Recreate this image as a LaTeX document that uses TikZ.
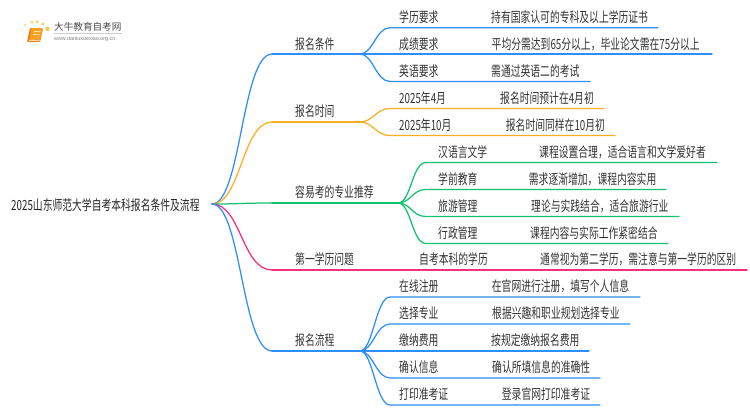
\documentclass[tikz,border=0pt]{standalone}
\usepackage{fontspec}
\setmainfont{Liberation Sans}
\newfontfamily\cn[FakeStretch=0.70]{Noto Sans CJK SC}
\newfontfamily\cnlogo{Noto Sans CJK SC}
\definecolor{cblue}{HTML}{2C8EFF}
\definecolor{corange}{HTML}{FFAE1F}
\definecolor{cgreen}{HTML}{13C270}
\definecolor{cpink}{HTML}{F62E80}
\definecolor{ctext}{HTML}{333333}
\definecolor{bookc}{HTML}{F9A01E}
\definecolor{bookd}{HTML}{E97C12}
\definecolor{bookl}{HTML}{FFD9A0}
\tikzset{
  lab/.style={anchor=west,inner sep=0pt,font=\cn\fontsize{14}{14}\selectfont,text=ctext},
  rootlab/.style={lab,text=black!85},
  link/.style={line width=1.25pt,line cap=round},
}
\newcommand{\branch}[3]{% colour, from, to
  \draw[link,#1] (#2) .. controls ($(#2)+(29,0)$) and ($(#3)+(-30,0)$) .. (#3);}
\usetikzlibrary{calc}
\begin{document}
\begin{tikzpicture}[x=1pt,y=-1pt]
\useasboundingbox (0,0) rectangle (750,410);
\fill[white] (0,0) rectangle (750,410);
% logo
\foreach \x/\y/\r/\c in {23/42/.8/FFF0D6,22.7/36/.9/FFE9C2,21.8/30/1/FFE0A8,25/25/1.2/FFD98F,32/22.3/1.6/FFD27A,37/21.8/1.7/FFCF70,43/24/1.7/FFCB66,47.5/29/2.2/FFC552}
  {\definecolor{dotc}{HTML}{\c}\fill[dotc] (\x,\y) circle (\r);}
\fill[bookd,rounded corners=1pt] (30,28) -- (43,28.5) -- (40,42) -- (27,42) -- cycle;
\fill[bookc,rounded corners=1pt] (31.5,28) -- (43,28.5) -- (40.3,39) -- (29.5,39) -- cycle;
\fill[bookl] (29,39.6) -- (39.8,39.6) -- (39.5,41) -- (28.8,41) -- cycle;
\draw[white!60!bookc,line width=.5pt] (33.5,31.5) -- (40.5,31.5) (33,34) -- (40,34);
\node[inner sep=0pt,anchor=west,text=black!70,font=\cnlogo\fontsize{9.6}{10}\selectfont] (logoa) at (54,27) {大牛教育自考网};
\draw[black!20,line width=.5pt] (54,33.5) -- (122,33.5);
\node[inner sep=0pt,anchor=west,text=black!50,font=\fontsize{5.4}{6}\selectfont] (logob) at (54,38.7) {www.daniuxuexiao.org.cn};
% root
\node[rootlab] (root) at (11,205.5) {2025山东师范大学自考本科报名条件及流程};
\coordinate (r) at (212,204);
% coordinates
\foreach \n/\x/\y in {
 b1s/272/54,b1e/360/54,b2s/272/122,b2e/360/122,b3s/272/203,b3e/398/203,b4s/272/270,b4e/747/270,b5s/272/351,b5e/360/351,
 a1s/390/27.7,a1e/658/27.7,a3s/390/81.5,a3e/590/81.5,a2e/712/54,
 c1s/390/108.5,c1e/604/108.5,c2s/390/135.5,c2e/615/135.5,
 d1s/426/162.5,d1e/717/162.5,d2s/426/189.5,d2e/666/189.5,d3s/426/216.5,d3e/679/216.5,d4s/426/243.5,d4e/668/243.5,
 e1s/390/297,e1e/640/297,e2s/390/324,e2e/630/324,e3e/589/351,e4s/390/378,e4e/600/378,e5s/390/405,e5e/600/405}
 {\coordinate (\n) at (\x,\y);}
% main branches
\branch{cblue}{r}{b1s}
\branch{corange}{r}{b2s}
\branch{cgreen}{r}{b3s}
\branch{cpink}{r}{b4s}
\branch{cblue}{r}{b5s}
\draw[link,cblue] (b1s) -- (b1e);
\draw[link,corange] (b2s) -- (b2e);
\draw[link,cgreen] (b3s) -- (b3e);
\draw[link,cpink] (b4s) -- (b4e);
\draw[link,cblue] (b5s) -- (b5e);
\newcommand{\sub}[4]{\draw[link,#1] (#2) .. controls ($(#2)+(13,0)$) and ($(#3)+(-14,0)$) .. (#3) -- (#4);}
\sub{cblue}{b1e}{a1s}{a1e}
\draw[link,cblue] (b1e) -- (a2e);
\sub{cblue}{b1e}{a3s}{a3e}
\sub{corange}{b2e}{c1s}{c1e}
\sub{corange}{b2e}{c2s}{c2e}
\sub{cgreen}{b3e}{d1s}{d1e}
\sub{cgreen}{b3e}{d2s}{d2e}
\sub{cgreen}{b3e}{d3s}{d3e}
\sub{cgreen}{b3e}{d4s}{d4e}
\sub{cblue}{b5e}{e1s}{e1e}
\sub{cblue}{b5e}{e2s}{e2e}
\draw[link,cblue] (b5e) -- (e3e);
\sub{cblue}{b5e}{e4s}{e4e}
\sub{cblue}{b5e}{e5s}{e5e}
% labels
\node[lab] (n1) at (295,44) {报名条件};
\node[lab] (n2) at (295,111.5) {报名时间};
\node[lab] (n3) at (295,192.5) {容易考的专业推荐};
\node[lab] (n4) at (295,259.5) {第一学历问题};
\node[lab] (n5) at (295,340.5) {报名流程};
\foreach \n/\x/\y/\t in {
 l1/399/17/学历要求, l2/399/44/成绩要求, l3/399/71/英语要求,
 l4/399/98/2025年4月, l5/399/125/2025年10月,
 l6/438/152/汉语言文学, l7/438/179/学前教育, l8/438/206/旅游管理, l9/438/233/行政管理,
 l10/419/259.5/自考本科的学历,
 l11/399/286.5/在线注册, l12/399/313.5/选择专业, l13/399/340.5/缴纳费用, l14/399/367.5/确认信息, l15/399/394.5/打印准考证,
 m1/491/17/持有国家认可的专科及以上学历证书, m2/491.5/44/平均分需达到65分以上，毕业论文需在75分以上, m3/491/71/需通过英语二的考试,
 m4/500/98/报名时间预计在4月初, m5/505.7/125/报名时间同样在10月初,
 m6/539/152/课程设置合理，适合语言和文学爱好者, m7/528.7/179/需求逐渐增加，课程内容实用, m8/531/206/理论与实践结合，适合旅游行业, m9/530/233/课程内容与实际工作紧密结合,
 m10/540/259.5/通常视为第二学历，需注意与第一学历的区别,
 m11/491.7/286.5/在官网进行注册，填写个人信息, m12/492/313.5/根据兴趣和职业规划选择专业, m13/491/340.5/按规定缴纳报名费用, m14/492/367.5/确认所填信息的准确性, m15/501.7/394.5/登录官网打印准考证}
 {\node[lab] (\n) at (\x,\y) {\t};}
\end{tikzpicture}
\end{document}
